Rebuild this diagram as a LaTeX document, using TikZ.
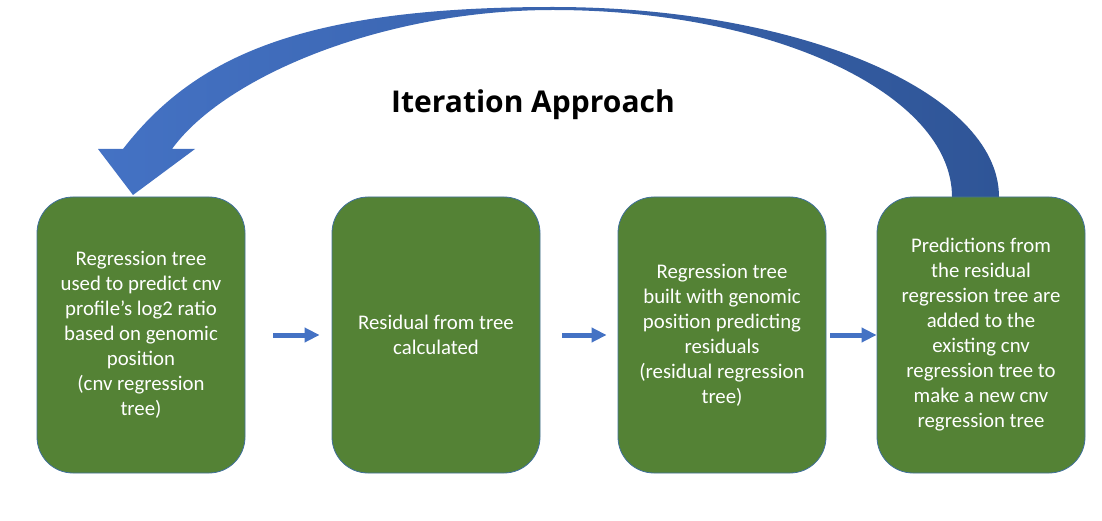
\documentclass[tikz,border=0pt]{standalone}
\usepackage{fontspec}
\setmainfont{Carlito}
\newfontfamily\titlefont{Open Sans}
\usetikzlibrary{arrows.meta}

\definecolor{boxgreen}{RGB}{84,130,53}
\definecolor{boxline}{RGB}{65,113,156}
\definecolor{arrowblue}{RGB}{68,114,196}
\definecolor{arrowdark}{RGB}{47,85,151}

\begin{document}
\begin{tikzpicture}[x=1pt,y=-1pt,
    stepbox/.style={draw=boxline, line width=0.8pt, fill=boxgreen, rounded corners=36pt,
      minimum width=208pt, minimum height=276pt, inner sep=0pt,
      text=white, align=center, font=\fontsize{20.8}{25}\selectfont},
    flow/.style={draw=arrowblue, line width=5pt, -{Triangle[length=15pt,width=14pt,fill=arrowblue]}}
    ]
  \useasboundingbox (0,0) rectangle (1102,521);

  % loop arrow
  \shade[left color=arrowblue, right color=arrowdark]
    (999,197) .. controls (999,92) and (799,7) .. (553,7)
    .. controls (303,7) and (195,56) .. (123,149)
    -- (98,149) -- (133,195) -- (195,149) -- (172,149)
    .. controls (224.5,76.5) and (383,10) .. (553,10)
    .. controls (773,10) and (952,94) .. (952,197)
    -- cycle;

  \node[font=\titlefont\bfseries\fontsize{30}{36}\selectfont, anchor=base] (title) at (533,113) {Iteration Approach};

  \node[stepbox] (b1) at (141,335) {Regression tree\\used to predict cnv\\profile’s log2 ratio\\based on genomic\\position\\(cnv regression\\tree)};
  \node[stepbox] (b2) at (436,335) {Residual from tree\\calculated};
  \node[stepbox] (b3) at (722,335) {Regression tree\\built with genomic\\position predicting\\residuals\\(residual regression\\tree)};
  \node[stepbox] (b4) at (981,335) {Predictions from\\the residual\\regression tree are\\added to the\\existing cnv\\regression tree to\\make a new cnv\\regression tree};

  \draw[flow] ([xshift=28pt]b1.east) -- ([xshift=-12pt]b2.west);
  \draw[flow] ([xshift=22pt]b2.east) -- ([xshift=-11pt]b3.west);
  \draw[flow] ([xshift=4pt]b3.east) -- (b4.west);
\end{tikzpicture}
\end{document}
